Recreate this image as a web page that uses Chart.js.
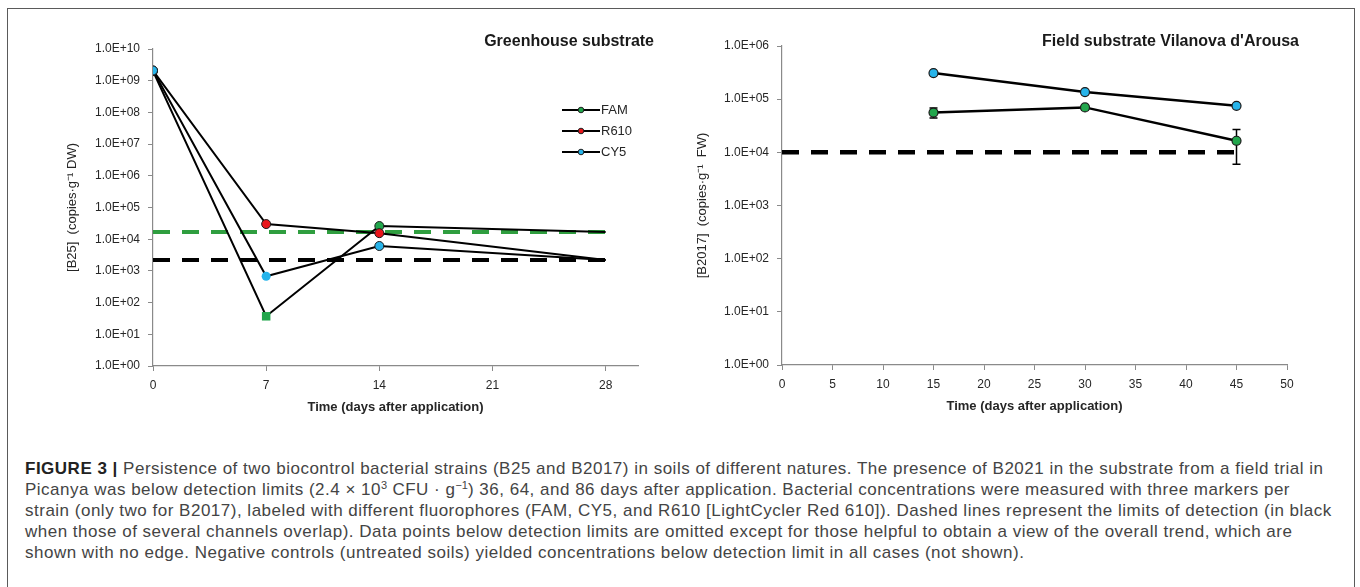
<!DOCTYPE html>
<html>
<head>
<meta charset="utf-8">
<script src="https://cdn.jsdelivr.net/npm/chart.js@4.4.0/dist/chart.umd.min.js"></script>
<style>
  html, body { margin: 0; padding: 0; background: #fff; }
  body { width: 1360px; height: 587px; position: relative; overflow: hidden; font-family: "Liberation Sans", Arial, sans-serif; }
  #frame { position: absolute; left: 7px; top: 8px; width: 1346px; height: 600px; border: 1px solid #5a5a5a; }
  #left { position: absolute; left: 0; top: 0; }
  #right { position: absolute; left: 680px; top: 0; }
  #caption { position: absolute; left: 25px; top: 458px; font-size: 17px; letter-spacing: 0.5px; line-height: 21px; color: #444; white-space: nowrap; }
  #caption b { color: #222; }
  #caption sup { font-size: 11px; line-height: 0; vertical-align: 6px; letter-spacing: 0; }
</style>
</head>
<body>
<div id="frame"></div>
<canvas id="left" width="680" height="425"></canvas>
<canvas id="right" width="680" height="425"></canvas>
<div id="caption">
<b>FIGURE 3 |</b> Persistence of two biocontrol bacterial strains (B25 and B2017) in soils of different natures. The presence of B2021 in the substrate from a field trial in<br>
Picanya was below detection limits (2.4 × 10<sup>3</sup> CFU · g<sup>−1</sup>) 36, 64, and 86 days after application. Bacterial concentrations were measured with three markers per<br>
strain (only two for B2017), labeled with different fluorophores (FAM, CY5, and R610 [LightCycler Red 610]). Dashed lines represent the limits of detection (in black<br>
when those of several channels overlap). Data points below detection limits are omitted except for those helpful to obtain a view of the overall trend, which are<br>
shown with no edge. Negative controls (untreated soils) yielded concentrations below detection limit in all cases (not shown).
</div>
<script>
// Greenhouse substrate, strain B25 (copies per g DW)
var ghDays = [0, 7, 14, 28];
var ghFAM = [2.0e9, 37, 2.6e4, 1.7e4];
var ghR610 = [2.1e9, 3.0e4, 1.55e4, 2.2e3];
var ghCY5 = [2.1e9, 680, 6.1e3, 2.2e3];
var ghLodDays = [0, 28];
var ghLodFAM = [1.7e4, 1.7e4];
var ghLodOther = [2.2e3, 2.2e3];
var ghXTicks = [0, 7, 14, 21, 28];
var ghYExp = [0, 1, 2, 3, 4, 5, 6, 7, 8, 9, 10];

// Field substrate Vilanova d'Arousa, strain B2017 (copies per g FW)
var fdDays = [15, 30, 45];
var fdCY5 = [3.1e5, 1.36e5, 7.5e4];
var fdFAM = [5.6e4, 7.0e4, 1.65e4];
var fdFAMErr = [1.2e4, 7e3, 1.05e4];
var fdLodDays = [0, 45];
var fdLod = [1.0e4, 1.0e4];
var fdXTicks = [0, 5, 10, 15, 20, 25, 30, 35, 40, 45, 50];
var fdYExp = [0, 1, 2, 3, 4, 5, 6];

var GREEN = '#22a64c';
var RED = '#e8161b';
var BLUE = '#27b4ea';
var LOD_GREEN = '#2f9e3f';
var AXIS = '#8a8a8a';
var TXT = '#262626';
var FONT = '"Liberation Sans", Arial, sans-serif';

function pts(xs, ys) {
    return xs.map(function(x, i) { return {x: x, y: ys[i]}; });
}

function sci(v) {
    var e = Math.round(Math.log10(v));
    return '1.0E' + (e < 0 ? '-' : '+') + (Math.abs(e) < 10 ? '0' : '') + Math.abs(e);
}

// title in the top right corner, plus an optional legend drawn inside the plot
function decor(cfg) {
    return {
        id: 'decor',
        afterDraw: function(chart) {
            var ctx = chart.ctx;
            ctx.save();
            ctx.fillStyle = '#1a1a1a';
            ctx.font = 'bold 16px ' + FONT;
            ctx.textAlign = 'right';
            ctx.textBaseline = 'middle';
            ctx.fillText(cfg.title, cfg.titleX, cfg.titleY);
            if (cfg.legend) {
                ctx.font = '13px ' + FONT;
                ctx.textAlign = 'left';
                cfg.legend.forEach(function(item, i) {
                    var y = cfg.legendY + i * cfg.legendGap;
                    ctx.strokeStyle = '#000';
                    ctx.lineWidth = 2;
                    ctx.beginPath();
                    ctx.moveTo(cfg.legendX, y);
                    ctx.lineTo(cfg.legendX + 38, y);
                    ctx.stroke();
                    ctx.beginPath();
                    ctx.arc(cfg.legendX + 19, y, 2.8, 0, Math.PI * 2);
                    ctx.fillStyle = item.color;
                    ctx.fill();
                    ctx.lineWidth = 1;
                    ctx.strokeStyle = '#222';
                    ctx.stroke();
                    ctx.fillStyle = TXT;
                    ctx.fillText(item.label, cfg.legendX + 39, y);
                });
            }
            ctx.restore();
        }
    };
}

// vertical error bars with caps, for datasets carrying an errorBars array
var errorBars = {
    id: 'errorBars',
    beforeDatasetDraw: function(chart, args) {
        var ds = chart.data.datasets[args.index];
        if (!ds.errorBars) return;
        var ctx = chart.ctx, xs = chart.scales.x, ys = chart.scales.y;
        ctx.save();
        ctx.strokeStyle = '#000';
        ctx.lineWidth = 1.5;
        ds.data.forEach(function(p, i) {
            var err = ds.errorBars[i];
            var x = xs.getPixelForValue(p.x);
            var top = ys.getPixelForValue(p.y + err);
            var bot = ys.getPixelForValue(p.y - err);
            ctx.beginPath();
            ctx.moveTo(x, top); ctx.lineTo(x, bot);
            ctx.moveTo(x - 4, top); ctx.lineTo(x + 4, top);
            ctx.moveTo(x - 4, bot); ctx.lineTo(x + 4, bot);
            ctx.stroke();
        });
        ctx.restore();
    }
};

function axes(xTicks, xMax, yExp, yTitle, yWidth) {
    return {
        x: {
            type: 'linear', min: 0, max: xMax,
            afterBuildTicks: function(s) { s.ticks = xTicks.map(function(v) { return {value: v}; }); },
            afterFit: function(s) { s.height = 53; },
            ticks: { font: {family: FONT, size: 12}, color: TXT, padding: 7, maxRotation: 0 },
            grid: { drawOnChartArea: false, drawTicks: true, tickLength: 5, color: AXIS },
            border: { color: AXIS, width: 1.2 },
            title: { display: true, text: 'Time (days after application)', color: TXT,
                     font: {family: FONT, size: 13, weight: 'bold'}, padding: {top: 4, bottom: 4} }
        },
        y: {
            type: 'logarithmic', min: 1, max: Math.pow(10, yExp[yExp.length - 1]),
            afterBuildTicks: function(s) { s.ticks = yExp.map(function(e) { return {value: Math.pow(10, e)}; }); },
            afterFit: function(s) { s.width = yWidth; },
            ticks: { callback: sci, font: {family: FONT, size: 12}, color: TXT, padding: 8, autoSkip: false },
            grid: { drawOnChartArea: false, drawTicks: true, tickLength: 5, color: AXIS },
            border: { color: AXIS, width: 1.2 },
            title: { display: true, text: yTitle, color: TXT,
                     font: {family: FONT, size: 13}, padding: {top: 4, bottom: 4} }
        }
    };
}

function series(label, days, vals, color, edges, radii, styles, order) {
    return {
        label: label,
        data: pts(days, vals),
        borderColor: '#000',
        borderWidth: 2,
        pointBackgroundColor: color,
        pointBorderColor: '#1a1a1a',
        pointBorderWidth: edges,
        pointRadius: radii,
        pointStyle: styles,
        order: order
    };
}

function lod(days, vals, color, width, order) {
    return {
        data: pts(days, vals),
        borderColor: color,
        borderWidth: width,
        borderDash: [17, 12],
        borderCapStyle: 'butt',
        pointRadius: 0,
        order: order
    };
}

window.onload = function() {

    // Greenhouse substrate
    new Chart(document.getElementById('left').getContext('2d'), {
        type: 'line',
        data: {
            datasets: [
                series('CY5', ghDays, ghCY5, BLUE, [1, 0, 1, 0], [4.5, 4.5, 4.5, 0], 'circle', 1),
                series('R610', ghDays, ghR610, RED, [1, 1, 1, 0], [4.5, 4.5, 4.5, 0], 'circle', 2),
                series('FAM', ghDays, ghFAM, GREEN, [1, 0, 1, 0], [4.5, 6, 4.5, 0], ['circle', 'rect', 'circle', 'circle'], 3),
                lod(ghLodDays, ghLodFAM, LOD_GREEN, 4, 5),
                lod(ghLodDays, ghLodOther, '#000', 4, 6)
            ]
        },
        options: {
            responsive: false,
            animation: false,
            devicePixelRatio: 1,
            layout: { padding: {left: 61, top: 49, right: 42, bottom: 6} },
            scales: axes(ghXTicks, 30, ghYExp, '[B25]  (copies·g⁻¹ DW)', 92),
            plugins: { legend: {display: false}, tooltip: {enabled: false} }
        },
        plugins: [decor({
            title: 'Greenhouse substrate', titleX: 654, titleY: 42,
            legendX: 562, legendY: 110, legendGap: 21,
            legend: [{label: 'FAM', color: GREEN}, {label: 'R610', color: RED}, {label: 'CY5', color: BLUE}]
        })]
    });

    // Field substrate Vilanova d'Arousa
    var fam = series('FAM', fdDays, fdFAM, GREEN, 1.2, 4.5, 'circle', 2);
    fam.errorBars = fdFAMErr;
    fam.borderWidth = 2.5;
    var cy5 = series('CY5', fdDays, fdCY5, BLUE, 1.2, 4.5, 'circle', 1);
    cy5.borderWidth = 2.5;
    new Chart(document.getElementById('right').getContext('2d'), {
        type: 'line',
        data: {
            datasets: [cy5, fam, lod(fdLodDays, fdLod, '#000', 4.5, 5)]
        },
        options: {
            responsive: false,
            animation: false,
            devicePixelRatio: 1,
            layout: { padding: {left: 11, top: 46, right: 73, bottom: 7} },
            scales: axes(fdXTicks, 50, fdYExp, '[B2017]  (copies·g⁻¹  FW)', 91),
            plugins: { legend: {display: false}, tooltip: {enabled: false} }
        },
        plugins: [errorBars, decor({ title: "Field substrate Vilanova d'Arousa", titleX: 619, titleY: 42 })]
    });
};
</script>
</body>
</html>
